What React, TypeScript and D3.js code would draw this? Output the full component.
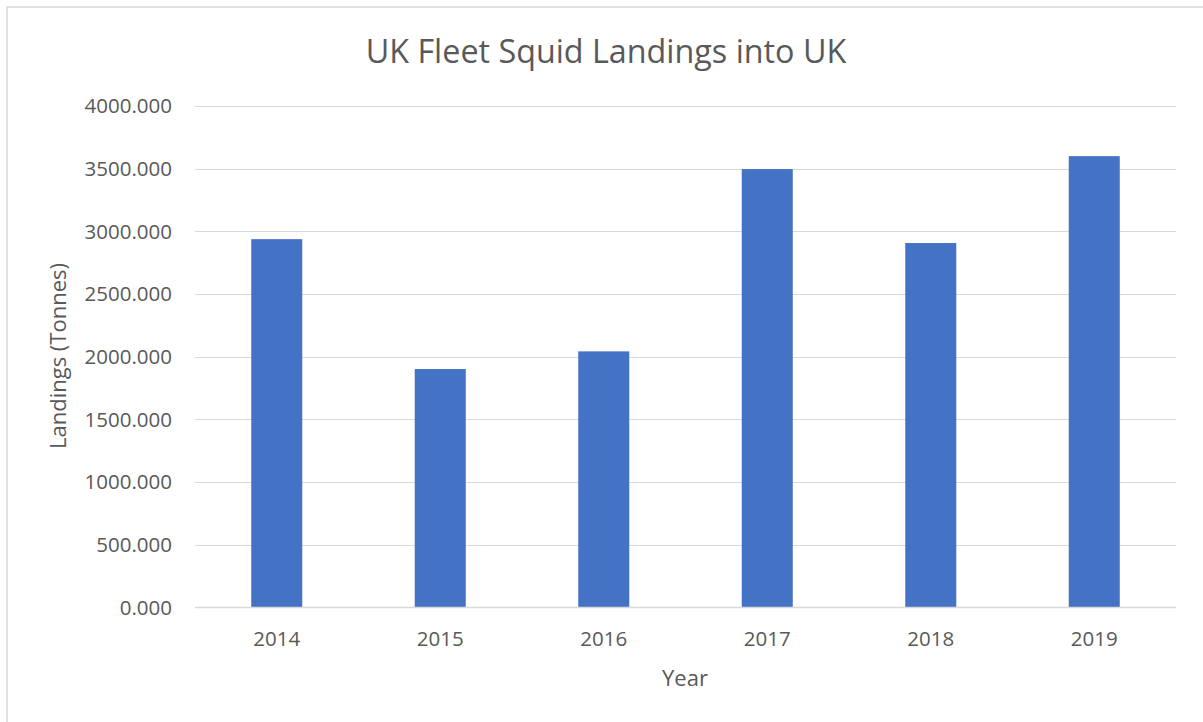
import React from "react";
import * as d3 from "d3";

const years = ["2014", "2015", "2016", "2017", "2018", "2019"];
const landings = [2938, 1902, 2043, 3497, 2907, 3600];
const yTicks = [0, 500, 1000, 1500, 2000, 2500, 3000, 3500, 4000];

const W = 1203;
const H = 722;
const FONT = "'Open Sans', 'Noto Sans', sans-serif";
const TEXT = "#595959";
const GRID = "#d9d9d9";
const BAR = "#4472C4";

export default function App() {
  const x = d3
    .scaleBand<string>()
    .domain(years)
    .range([195, 1176])
    .paddingInner(0.688)
    .paddingOuter(0.344);
  const y = d3.scaleLinear().domain([0, 4000]).range([607.5, 106]);
  return (
    <div style={{ position: "absolute", left: 0, top: 0 }}>
      <svg width={W} height={H} style={{ display: "block" }}>
        <rect x={0} y={0} width={W} height={H} fill="#fff" />
        <rect x={7} y={7} width={W} height={H} fill="#fff" stroke={GRID} strokeWidth={1.5} />
        <text x={606} y={63} textAnchor="middle" fontFamily={FONT} fontSize={32.3} fill={TEXT}>
          UK Fleet Squid Landings into UK
        </text>
        {yTicks.map((t) => (
          <g key={t}>
            {t > 0 && (
              <line x1={195} x2={1176} y1={Math.round(y(t)) + 0.5} y2={Math.round(y(t)) + 0.5} stroke={GRID} strokeWidth={1} />
            )}
            <text x={172} y={y(t) + 7.3} textAnchor="end" fontFamily={FONT} fontSize={20.5} fill={TEXT}>
              {d3.format(".3f")(t)}
            </text>
          </g>
        ))}
        {years.map((yr, i) => (
          <rect
            key={yr}
            x={x(yr)}
            y={y(landings[i])}
            width={x.bandwidth()}
            height={y(0) - y(landings[i])}
            fill={BAR}
          />
        ))}
        <line x1={195} x2={1176} y1={y(0)} y2={y(0)} stroke={GRID} strokeWidth={1.5} />
        {years.map((yr) => (
          <text
            key={yr}
            x={(x(yr) as number) + x.bandwidth() / 2}
            y={646}
            textAnchor="middle"
            fontFamily={FONT}
            fontSize={20.5}
            fill={TEXT}
          >
            {yr}
          </text>
        ))}
        <text x={685} y={686} textAnchor="middle" fontFamily={FONT} fontSize={22} fill={TEXT}>
          Year
        </text>
        <text
          transform={`translate(66,356) rotate(-90)`}
          textAnchor="middle"
          fontFamily={FONT}
          fontSize={22}
          fill={TEXT}
        >
          Landings (Tonnes)
        </text>
      </svg>
    </div>
  );
}
